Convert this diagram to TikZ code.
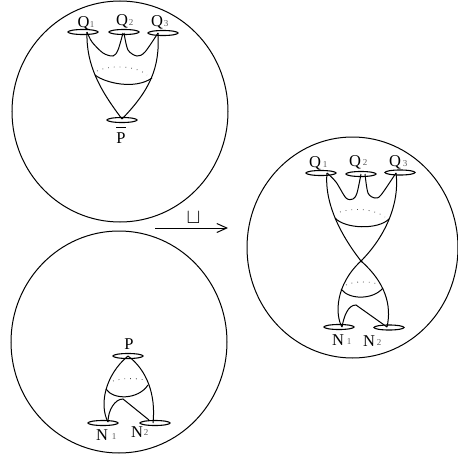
\documentclass[tikz,border=0pt]{standalone}
\usepackage{fontspec}
\setmainfont{Liberation Serif}
\usetikzlibrary{shapes.geometric, arrows.meta}
\begin{document}
\begin{tikzpicture}[
        x=1pt, y=-1pt,
        esfera/.style={ellipse, draw, line width=1pt, inner sep=0pt},
        boca/.style={ellipse, draw, line width=1.1pt, fill=white, inner sep=0pt, minimum width=30pt, minimum height=5pt},
        etiqueta/.style={inner sep=0pt, font=\fontsize{16.5}{16.5}\selectfont},
        sub/.style={inner sep=0pt, text=black!65, font=\fontsize{9}{9}\selectfont},
        linea/.style={line width=1pt},
        puntos/.style={line width=0.8pt, black!70, dash pattern=on 0.8pt off 5pt},
        flecha/.style={-{Straight Barb[length=10pt, width=9pt]}, line width=1pt}
    ]
        \useasboundingbox (0,0) rectangle (458,455);

        \node[esfera, minimum width=216pt, minimum height=221pt] (izq) at (120,111.5) {};
        \node[esfera, minimum width=216pt, minimum height=222pt] (aba) at (119,342) {};
        \node[esfera, minimum width=211pt, minimum height=221pt] (der) at (352.5,247.5) {};

        % arriba
        \node[boca] (q1) at (83,32) {};
        \node[boca] (q2) at (124,32) {};
        \node[boca] (q3) at (163,33) {};
        \node[boca] (pb) at (122,120) {};
        \node[etiqueta] (lq1) at (83.5,23) {Q};
        \node[sub] (sq1) at (92,25) {1};
        \node[etiqueta] (lq2) at (122,21) {Q};
        \node[sub] (sq2) at (131,23) {2};
        \node[etiqueta] (lq3) at (157,22) {Q};
        \node[sub] (sq3) at (166,24) {3};
        \node[etiqueta] (lpb) at (121,138) {P};
        \coordinate (pbar) at (121,127.5);
        \draw[line width=1pt] ([xshift=-5pt]pbar) -- ([xshift=5pt]pbar);

        \coordinate (a1) at (87,32);
        \coordinate (a2) at (123,33);
        \coordinate (a3) at (158,33);
        \coordinate (ap) at (122,119);
        \coordinate (aw1) at (95,75);
        \coordinate (aw2) at (152,78);
        \draw[linea] plot[smooth] coordinates {(a1) (92,42) (103,53) (113,56) (118,50) (a2)};
        \draw[linea] plot[smooth] coordinates {(124,33) (128,50) (137,56) (145,52) (a3)};
        \draw[linea] (a1) .. controls (86,65) and (100,90) .. (ap);
        \draw[linea] (a3) .. controls (160,68) and (150,90) .. (ap);
        \draw[linea] (aw1) .. controls (105,83) and (135,90) .. (aw2);
        \draw[puntos] (97,71) .. controls (110,65) and (135,65) .. (147,75);

        % abajo
        \node[boca] (p) at (128,356) {};
        \node[boca] (n1) at (103,423) {};
        \node[boca] (n2) at (155,423) {};
        \node[etiqueta] (lp) at (129,344) {P};
        \node[etiqueta] (ln1) at (102,435) {N};
        \node[sub] (sn1) at (114,437) {1};
        \node[etiqueta] (ln2) at (137,432) {N};
        \node[sub] (sn2) at (146,433) {2};

        \coordinate (b0) at (128,356);
        \coordinate (bw1) at (106,389);
        \coordinate (bw2) at (148,385);
        \coordinate (b1) at (108,422);
        \coordinate (b2) at (153,423);
        \draw[linea] (b0) .. controls (105,375) and (99,405) .. (b1);
        \draw[linea] (b0) .. controls (147,370) and (156,395) .. (b2);
        \draw[linea] (bw1) .. controls (113,400) and (138,400) .. (bw2);
        \draw[linea] (b1) .. controls (108,410) and (115,399) .. (123,399) -- (149,420);
        \draw[puntos] (113,381) .. controls (122,378) and (135,378) .. (145,380);

        % derecha
        \node[boca] (dq1) at (321,173) {};
        \node[boca] (dq2) at (361,174) {};
        \node[boca] (dq3) at (400,172.5) {};
        \node[boca] (dn1) at (339,327) {};
        \node[boca] (dn2) at (389,327.5) {};
        \node[etiqueta] (ldq1) at (315,163) {Q};
        \node[sub] (sdq1) at (325,165) {1};
        \node[etiqueta] (ldq2) at (355,162) {Q};
        \node[sub] (sdq2) at (365,163) {2};
        \node[etiqueta] (ldq3) at (395,162) {Q};
        \node[sub] (sdq3) at (405,164) {3};
        \node[etiqueta] (ldn1) at (338,340) {N};
        \node[sub] (sdn1) at (349,342) {1};
        \node[etiqueta] (ldn2) at (369,341) {N};
        \node[sub] (sdn2) at (379,343) {2};

        \coordinate (d1) at (327,173);
        \coordinate (d2) at (361,174);
        \coordinate (d3) at (396,173);
        \coordinate (dc) at (361,261);
        \coordinate (dw1) at (335,218);
        \coordinate (dw2) at (389,219);
        \coordinate (dw3) at (341,289);
        \coordinate (dw4) at (383,288);
        \coordinate (d4) at (342,327);
        \coordinate (d5) at (387,327);
        \draw[linea] plot[smooth] coordinates {(d1) (336,182) (346,198) (353,199) (357,193) (d2)};
        \draw[linea] plot[smooth] coordinates {(365,174) (368,193) (375,198) (381,195) (d3)};
        \draw[linea] (d1) .. controls (324,205) and (343,238) .. (dc);
        \draw[linea] (d3) .. controls (400,205) and (384,238) .. (dc);
        \draw[linea] (dc) .. controls (335,285) and (335,315) .. (d4);
        \draw[linea] (dc) .. controls (385,282) and (392,305) .. (d5);
        \draw[linea] (dw1) .. controls (345,229) and (378,230) .. (dw2);
        \draw[linea] (dw3) .. controls (349,300) and (373,300) .. (dw4);
        \draw[linea] (d4) .. controls (344,316) and (348,305) .. (356,305) -- (d5);
        \draw[puntos] (340,212) .. controls (352,208) and (372,208) .. (385,217);
        \draw[puntos] (346,285) .. controls (355,281) and (368,281) .. (378,284);
        \fill (dc) circle (1.5pt);

        % flecha
        \coordinate (fa) at (155,228);
        \coordinate (fb) at (228,228);
        \draw[flecha] (fa) -- (fb);
        \node[inner sep=0pt, anchor=base, font=\fontsize{20}{20}\selectfont] (union) at (193.5,223) {$\sqcup$};
    \end{tikzpicture}
\end{document}
